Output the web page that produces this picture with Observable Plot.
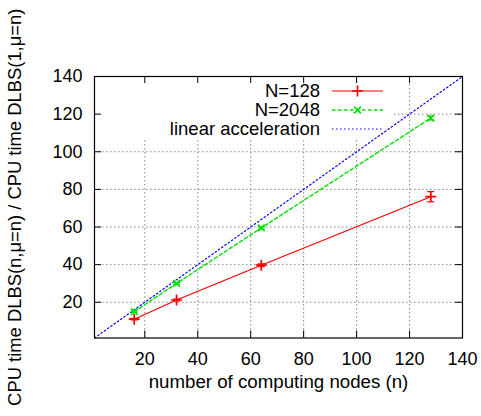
<!DOCTYPE html>
<html><head><meta charset="utf-8">
<script src="https://cdn.jsdelivr.net/npm/d3@7"></script>
<script src="https://cdn.jsdelivr.net/npm/@observablehq/plot@0.6"></script>
<style>body{margin:0;background:#fff}</style>
</head><body><div id="chart"></div>
<script>
const nodes = [16, 32, 64, 128];
const speedup128 = [11.0, 21.2, 39.7, 76.1];
const err128 = [0.4, 0.5, 0.7, 2.7];
const speedup2048 = [15.0, 30.0, 59.5, 117.9];
const err2048 = [0.3, 0.4, 0.6, 1.0];
const linearX = [1, 140];
const xTicks = [20, 40, 60, 80, 100, 120, 140];
const yTicks = [20, 40, 60, 80, 100, 120, 140];
const gridTicks = [20, 40, 60, 80, 100, 120];
const seriesNames = ["N=128", "N=2048", "linear acceleration"];
const seriesColors = ["#ff0000", "#00e000", "#0000ff"];
const xLabel = "number of computing nodes (n)";
const yLabel = "CPU time DLBS(n,\u03bc=n) / CPU time DLBS(1,\u03bc=n)";

const font = "'Liberation Sans', Arial, Helvetica, sans-serif";
const FS = 18;
const W = 481, H = 416, mL = 94, mR = 19, mT = 76, mB = 78.5;
const fw = W - mL - mR, fh = H - mT - mB;

const s128 = nodes.map((n, i) => ({n, v: speedup128[i], e: err128[i]}));
const s2048 = nodes.map((n, i) => ({n, v: speedup2048[i], e: err2048[i]}));
const lin = linearX.map(n => ({n, v: n}));

const capSymbol = {draw(ctx, size) { const w = Math.sqrt(size / Math.PI); ctx.moveTo(-w, 0); ctx.lineTo(w, 0); }};

function legendBg(index, scales, values, dims) {
  const g = d3.create("svg:g");
  const left = dims.marginLeft + 3, right = dims.width - dims.marginRight - 69;
  g.append("rect").attr("x", left).attr("y", dims.marginTop + 1)
    .attr("width", right - left).attr("height", 61).attr("fill", "white");
  return g.node();
}
function legendFg(index, scales, values, dims) {
  const g = d3.create("svg:g").attr("font-family", font).attr("font-size", 18.5);
  const textX = 320, x1 = 332, x2 = 383, xm = (x1 + x2) / 2;
  const rows = [dims.marginTop + 15, dims.marginTop + 34, dims.marginTop + 53];
  const dashes = [null, "3.5,2.5", "1.5,2.5"];
  const syms = [d3.symbolPlus, d3.symbolTimes, null];
  seriesNames.forEach((name, i) => {
    const y = rows[i];
    g.append("text").attr("x", textX).attr("y", y).attr("dy", "0.35em")
      .attr("text-anchor", "end").attr("fill", "#000").text(name);
    const l = g.append("line").attr("x1", x1).attr("x2", x2).attr("y1", y).attr("y2", y)
      .attr("stroke", seriesColors[i]).attr("stroke-width", i === 1 ? 1.4 : 1.2);
    if (dashes[i]) l.attr("stroke-dasharray", dashes[i]);
    if (syms[i]) {
      const r = i === 0 ? 3.6 : 3.1;
      g.append("path").attr("transform", `translate(${xm},${y})`)
        .attr("d", d3.symbol(syms[i], Math.PI * r * r)())
        .attr("fill", "none").attr("stroke", seriesColors[i]).attr("stroke-width", 1.7);
    }
  });
  return g.node();
}

const chart = Plot.plot({
  width: W, height: H,
  marginLeft: mL, marginRight: mR, marginTop: mT, marginBottom: mB,
  style: {fontFamily: font, fontSize: FS + "px", color: "#000", background: "#fff", overflow: "visible"},
  x: {domain: [1, 140]},
  y: {domain: [1, 140]},
  marks: [
    Plot.ruleX(gridTicks, {stroke: "#888", strokeWidth: 1, strokeDasharray: "1.5,2.5"}),
    Plot.ruleY(gridTicks, {stroke: "#888", strokeWidth: 1, strokeDasharray: "1.5,2.5"}),
    legendBg,
    Plot.line(lin, {x: "n", y: "v", stroke: seriesColors[2], strokeWidth: 1.2, strokeDasharray: "1.5,2.5"}),
    Plot.line(s2048, {x: "n", y: "v", stroke: seriesColors[1], strokeWidth: 1.4, strokeDasharray: "3.5,2.5"}),
    Plot.line(s128, {x: "n", y: "v", stroke: seriesColors[0], strokeWidth: 1.2}),
    Plot.ruleX(s128, {x: "n", y1: d => d.v - d.e, y2: d => d.v + d.e, stroke: seriesColors[0], strokeWidth: 1.2}),
    Plot.dot(s128, {x: "n", y: d => d.v - d.e, symbol: capSymbol, r: 3.5, stroke: seriesColors[0], strokeWidth: 1.2}),
    Plot.dot(s128, {x: "n", y: d => d.v + d.e, symbol: capSymbol, r: 3.5, stroke: seriesColors[0], strokeWidth: 1.2}),
    Plot.ruleX(s2048, {x: "n", y1: d => d.v - d.e, y2: d => d.v + d.e, stroke: seriesColors[1], strokeWidth: 1.2}),
    Plot.dot(s2048, {x: "n", y: d => d.v - d.e, symbol: capSymbol, r: 3.5, stroke: seriesColors[1], strokeWidth: 1.2}),
    Plot.dot(s2048, {x: "n", y: d => d.v + d.e, symbol: capSymbol, r: 3.5, stroke: seriesColors[1], strokeWidth: 1.2}),
    Plot.dot(s128, {x: "n", y: "v", symbol: "plus", r: 3.6, stroke: seriesColors[0], strokeWidth: 1.7}),
    Plot.dot(s2048, {x: "n", y: "v", symbol: "times", r: 3.1, stroke: seriesColors[1], strokeWidth: 1.7}),
    Plot.ruleX(xTicks, {stroke: "#000", insetTop: fh - 7}),
    Plot.ruleX(xTicks, {stroke: "#000", insetBottom: fh - 7}),
    Plot.ruleY(yTicks, {stroke: "#000", insetRight: fw - 7}),
    Plot.ruleY(yTicks, {stroke: "#000", insetLeft: fw - 7}),
    Plot.frame({stroke: "#000", strokeWidth: 1.2}),
    Plot.axisX(xTicks, {tickSize: 0, tickPadding: 14, label: null, fontSize: FS}),
    Plot.axisY(yTicks, {tickSize: 0, tickPadding: 12, label: null, fontSize: FS}),
    Plot.text([xLabel], {text: d => d, frameAnchor: "bottom", dy: 50, fontSize: 18.7, fill: "#000"}),
    Plot.text([yLabel], {text: d => d, frameAnchor: "left", dx: -79, rotate: -90, textAnchor: "middle", fontSize: 18.4, fill: "#000"}),
    legendFg
  ]
});
document.getElementById("chart").appendChild(chart);
</script>
</body></html>
